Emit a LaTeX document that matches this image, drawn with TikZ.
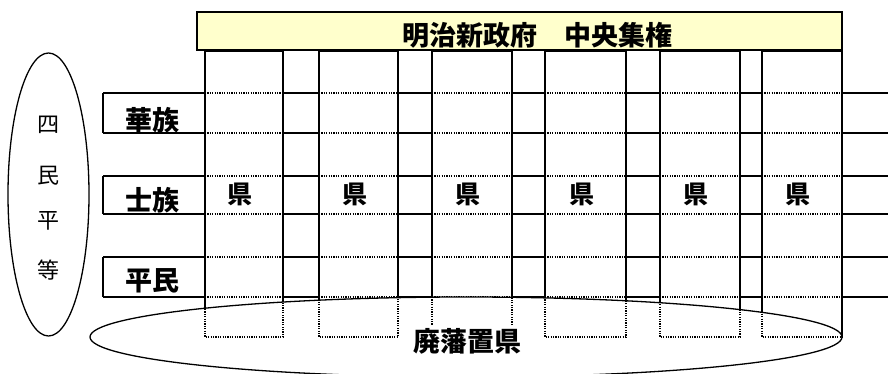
\documentclass[tikz,border=0pt]{standalone}
\usepackage{fontspec}
\newfontfamily\jp{Noto Sans CJK JP}
\definecolor{titlefill}{HTML}{FFFFCC}
\begin{document}
\begin{tikzpicture}[x=1pt,y=-1pt,
  ln/.style={line width=1.3pt,black},
  dl/.style={line width=1.2pt,black,dash pattern=on 1.2pt off 1.2pt},
  lbl/.style={font=\jp\bfseries\fontsize{27}{27}\selectfont,inner sep=0pt},
  kenlbl/.style={font=\jp\bfseries\fontsize{25}{25}\selectfont,inner sep=0pt},
  shimin/.style={font=\jp\fontsize{22}{22}\selectfont,inner sep=0pt}]
\useasboundingbox (0,0) rectangle (888,374);
% title box
\node[draw,line width=1.3pt,fill=titlefill,minimum width=645pt,minimum height=38pt,inner sep=0pt] (titlebox) at (519.5,31) {};
\node[lbl] (title) at (537,35) {明治新政府　中央集権};
% horizontal lines
\foreach \y in {93,133,176,214,257,297} {
  \foreach \a/\b in {103/205,283/319,398/432,512/545,626/660,740/762,842/888}
    \draw[ln] (\a,\y) -- (\b,\y);
  \foreach \a/\b in {205/283,319/398,432/512,545/626,660/740,762/842}
    \draw[dl] (\a,\y) -- (\b,\y);
}
% label boxes left edges
\draw[ln] (103,93) -- (103,133);
\draw[ln] (103,176) -- (103,214);
\draw[ln] (103,257) -- (103,297);
% columns
\foreach \a/\b in {205/283,319/398,432/512,545/626,660/740,762/842}
  \draw[ln] (\a,337) -- (\a,51) -- (\b,51) -- (\b,337);
% bottom ellipse
\fill[white] (466,337) ellipse [x radius=376pt, y radius=40pt];
\foreach \a/\b in {205/283,319/398,432/512,545/626,660/740,762/842}
  \draw[dl] (\a,297) -- (\a,337) -- (\b,337) -- (\b,297);
\draw[ln] (466,337) ellipse [x radius=376pt, y radius=40pt];
\node[lbl,fill=white,minimum width=120pt,minimum height=31pt] (haihan) at (467,341) {廃藩置県};
% left ellipse
\draw[ln] (48.5,194.5) ellipse [x radius=40.5pt, y radius=141.5pt];
\node[shimin] (s1) at (48,125) {四};
\node[shimin] (s2) at (48,176) {民};
\node[shimin] (s3) at (48,221) {平};
\node[shimin] (s4) at (48,270) {等};
% row labels
\node[lbl] (kazoku) at (152,120) {華族};
\node[lbl] (shizoku) at (152,200) {士族};
\node[lbl] (heimin) at (152,281) {平民};
% ken labels
\foreach \c/\n in {240/k1,354.5/k2,468/k3,581.5/k4,696/k5,798/k6}
  \node[kenlbl] (\n) at (\c,194) {県};
\end{tikzpicture}
\end{document}
